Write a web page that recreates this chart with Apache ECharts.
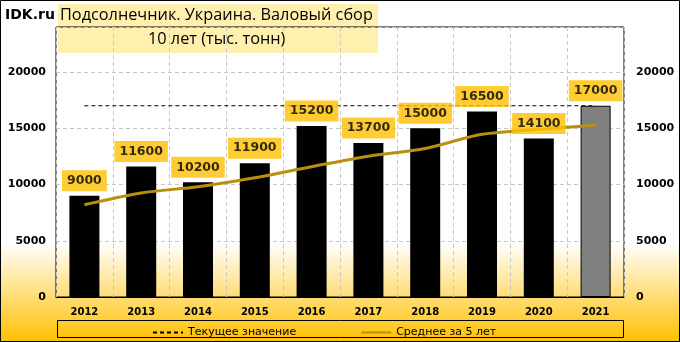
<!DOCTYPE html>
<html><head><meta charset="utf-8">
<script src="https://cdn.jsdelivr.net/npm/echarts@6/dist/echarts.min.js"></script>
<style>html,body{margin:0;padding:0;background:#fff}#c{width:680px;height:342px}</style>
</head><body><div id="c"></div>
<script>
const years = ['2012','2013','2014','2015','2016','2017','2018','2019','2020','2021'];
const harvest = [9000, 11600, 10200, 11900, 15200, 13700, 15000, 16500, 14100, 17000];
const avg5 = [8200, 9250, 9800, 10600, 11580, 12520, 13200, 14460, 14900, 15260];
const currentValue = 17000;
const yTicks = [0, 5000, 10000, 15000, 20000];

const F = 'DejaVu Sans';
const chart = echarts.init(document.getElementById('c'));
const barData = harvest.map((v, i) => i === harvest.length - 1
  ? { value: v, itemStyle: { color: '#808080', borderColor: '#000', borderWidth: 1 } }
  : v);
const yAxisCommon = {
  type: 'value', min: 0, max: 24000, interval: 5000,
  axisTick: { show: false },
  axisLabel: { fontFamily: F, fontWeight: 'bold', fontSize: 11, color: '#000', showMaxLabel: false,
    formatter: v => yTicks.includes(v) ? String(v) : '' }
};
chart.setOption({
  animation: false,
  backgroundColor: { type: 'linear', x: 0, y: 0, x2: 0, y2: 1,
    colorStops: [{ offset: 0, color: '#ffffff' }, { offset: 0.71, color: '#ffffff' }, { offset: 1, color: '#FFC000' }] },
  graphic: [
    { type: 'rect', z: -10, shape: { x: 58, y: 4, width: 320, height: 49 }, style: { fill: '#FFF0B0' } },
    { type: 'text', z: 10, left: 5, top: 8, style: { text: 'IDK.ru', font: 'bold 14px "DejaVu Sans"', fill: '#000' } },
    { type: 'text', z: 10, left: 60, top: 7, style: { text: 'Подсолнечник. Украина. Валовый сбор', font: '16.3px "Open Sans"', fill: '#000' } },
    { type: 'text', z: 10, left: 148, top: 31, style: { text: '10 лет (тыс. тонн)', font: '16.3px "Open Sans"', fill: '#000' } },
    { type: 'rect', z: 10, shape: { x: 57.5, y: 320.5, width: 566, height: 17 }, style: { fill: 'none', stroke: '#000', lineWidth: 1 } },
    { type: 'rect', z: 10, shape: { x: 0.5, y: 0.5, width: 679, height: 341 }, style: { fill: 'none', stroke: '#000', lineWidth: 1 } }
  ],
  legend: {
    left: 147, top: 322, itemGap: 64, itemWidth: 30, itemHeight: 10,
    itemStyle: { opacity: 0 },
    textStyle: { fontFamily: F, fontSize: 11, color: '#000' },
    data: ['Текущее значение', 'Среднее за 5 лет']
  },
  grid: { left: 56, right: 56, top: 27, bottom: 45, show: true, borderColor: '#000', borderWidth: 1, backgroundColor: 'transparent' },
  xAxis: {
    type: 'category', data: years,
    axisLine: { lineStyle: { color: '#000' } }, axisTick: { show: false },
    axisLabel: { fontFamily: F, fontWeight: 'bold', fontSize: 10, color: '#000', margin: 10 },
    splitLine: { show: true, interval: 0, lineStyle: { color: '#c8c8c8', type: [4, 3] } }
  },
  yAxis: [
    Object.assign({}, yAxisCommon, { position: 'left', axisLine: { show: false },
      axisLabel: Object.assign({}, yAxisCommon.axisLabel, { margin: 10 }),
      splitLine: { show: true, lineStyle: { color: '#c8c8c8', type: [4, 3] } } }),
    Object.assign({}, yAxisCommon, { position: 'right', axisLine: { show: false },
      axisLabel: Object.assign({}, yAxisCommon.axisLabel, { margin: 12 }),
      splitLine: { show: false } })
  ],
  series: [
    { name: 'Текущее значение', type: 'line', data: years.map(() => currentValue), symbol: 'none', z: 1,
      lineStyle: { color: '#000', width: 1, type: [4, 3] }, itemStyle: { color: '#000' } },
    { name: 'Урожай', type: 'bar', data: barData, barWidth: 30, z: 2,
      itemStyle: { color: '#000' } },
    { name: 'Среднее за 5 лет', type: 'line', data: avg5, symbol: 'none', smooth: 0.3, z: 3,
      lineStyle: { color: '#B8900E', width: 3 }, itemStyle: { color: '#B8900E' } },
    { name: 'Подписи', type: 'scatter', data: harvest, symbol: 'circle', symbolSize: 1, z: 5, silent: true,
      itemStyle: { color: 'rgba(0,0,0,0)' },
      label: { show: true, position: 'top', distance: 4, fontFamily: F, fontWeight: 'bold', fontSize: 12.5, color: '#000',
        backgroundColor: '#FFC000', padding: [4, 5, 4, 5], lineHeight: 13 } }
  ]
});
</script></body></html>
